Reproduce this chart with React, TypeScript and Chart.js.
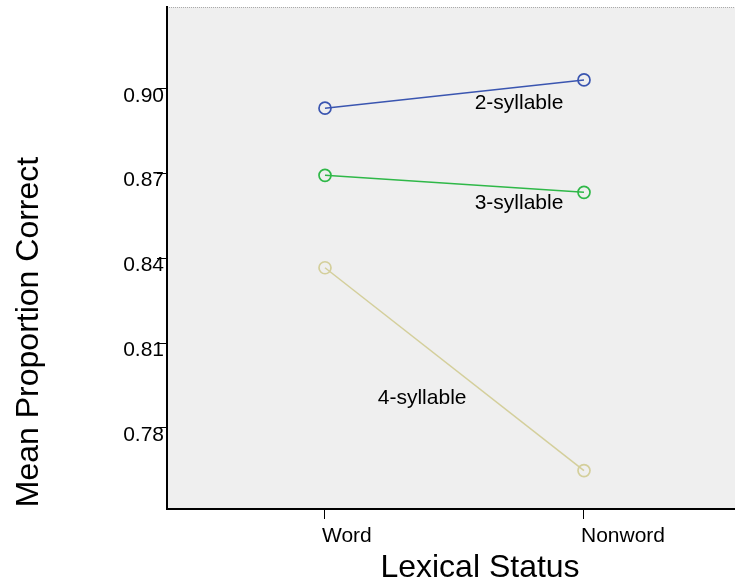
import React, { useEffect, useRef } from "react";
import { Chart, registerables } from "chart.js";

Chart.register(...registerables);

const CATEGORIES = ["Word", "Nonword"];
const X_POS = [1, 2];
const SERIES_NAMES = ["2-syllable", "3-syllable", "4-syllable"];
const TWO_SYL = [0.8932, 0.9032];
const THREE_SYL = [0.8694, 0.8634];
const FOUR_SYL = [0.8367, 0.7649];
const Y_TICKS = [0.78, 0.81, 0.84, 0.87, 0.9];
const X_TITLE = "Lexical Status";
const Y_TITLE = "Mean Proportion Correct";

const FONT = "'Liberation Sans', Arial, Helvetica, sans-serif";
const COLORS = ["#3a55b0", "#2fb848", "#d4cf9b"];

export default function App() {
  const ref = useRef<HTMLCanvasElement | null>(null);

  useEffect(() => {
    if (!ref.current) return;
    const seriesVals = [TWO_SYL, THREE_SYL, FOUR_SYL];
    const labelAnchors = [
      { x: 1.749, y: 0.8948 },
      { x: 1.749, y: 0.8597 },
      { x: 1.375, y: 0.7906 },
    ];

    const decor = {
      id: "decor",
      beforeDraw(chart: any) {
        const { ctx, chartArea } = chart;
        ctx.save();
        ctx.fillStyle = "#efefef";
        ctx.fillRect(chartArea.left, chartArea.top, chartArea.right - chartArea.left, chartArea.bottom - chartArea.top);
        ctx.strokeStyle = "#aaaaaa";
        ctx.lineWidth = 1;
        ctx.setLineDash([1, 1]);
        ctx.beginPath();
        ctx.moveTo(chartArea.left, chartArea.top + 0.5);
        ctx.lineTo(chartArea.right, chartArea.top + 0.5);
        ctx.stroke();
        ctx.restore();
      },
      afterDraw(chart: any) {
        const { ctx, chartArea, scales } = chart;
        ctx.save();
        ctx.fillStyle = "#000";
        ctx.textAlign = "center";
        ctx.textBaseline = "middle";
        ctx.font = `21px ${FONT}`;
        SERIES_NAMES.forEach((name, i) => {
          const a = labelAnchors[i];
          ctx.fillText(name, scales.x.getPixelForValue(a.x), scales.y.getPixelForValue(a.y));
        });
        ctx.font = `32px ${FONT}`;
        ctx.textBaseline = "alphabetic";
        ctx.fillText(X_TITLE, chartArea.left + 313, chartArea.bottom + 68);
        ctx.translate(37.5, chartArea.top + 325);
        ctx.rotate(-Math.PI / 2);
        ctx.fillText(Y_TITLE, 0, 0);
        ctx.restore();
      },
    };

    const chart = new Chart(ref.current, {
      type: "line",
      data: {
        datasets: SERIES_NAMES.map((name, i) => ({
          label: name,
          data: X_POS.map((x, j) => ({ x, y: seriesVals[i][j] })),
          borderColor: COLORS[i],
          borderWidth: 1.5,
          pointBorderColor: COLORS[i],
          pointBackgroundColor: "rgba(0,0,0,0)",
          pointRadius: 6,
          pointBorderWidth: 1.7,
          pointStyle: "circle",
          tension: 0,
        })),
      },
      options: {
        animation: false,
        responsive: false,
        maintainAspectRatio: false,
        layout: { autoPadding: false, padding: { top: 7, left: 0, right: 0, bottom: 0 } },
        plugins: { legend: { display: false }, tooltip: { enabled: false } },
        scales: {
          x: {
            type: "linear",
            min: 0.39,
            max: 2.583,
            afterBuildTicks: (s: any) => {
              s.ticks = X_POS.map((v) => ({ value: v }));
            },
            afterFit: (s: any) => {
              s.height = 79;
            },
            ticks: {
              callback: (v: any) => CATEGORIES[X_POS.indexOf(Number(v))],
              font: { family: FONT, size: 21 },
              color: "#000",
              padding: 5,
              maxRotation: 0,
              autoSkip: false,
              align: "start",
              labelOffset: -3,
            },
            grid: { drawOnChartArea: false, color: "#000", tickLength: 10, lineWidth: 1 },
            border: { color: "#000", width: 2 },
          },
          y: {
            min: 0.7513,
            max: 0.929,
            afterBuildTicks: (s: any) => {
              s.ticks = Y_TICKS.map((v) => ({ value: v }));
            },
            afterFit: (s: any) => {
              s.width = 167;
            },
            ticks: {
              callback: (v: any) => Number(v).toFixed(2),
              font: { family: FONT, size: 21 },
              color: "#000",
              padding: -7,
              labelOffset: 7,
            },
            grid: { drawOnChartArea: false, color: "#000", tickLength: 10, lineWidth: 1 },
            border: { color: "#000", width: 2 },
          },
        },
      },
      plugins: [decor],
    } as any);

    return () => chart.destroy();
  }, []);

  return (
    <div style={{ position: "absolute", left: 0, top: 0, width: 735, height: 588 }}>
      <canvas ref={ref} width={735} height={588} style={{ width: 735, height: 588, display: "block" }} />
    </div>
  );
}
